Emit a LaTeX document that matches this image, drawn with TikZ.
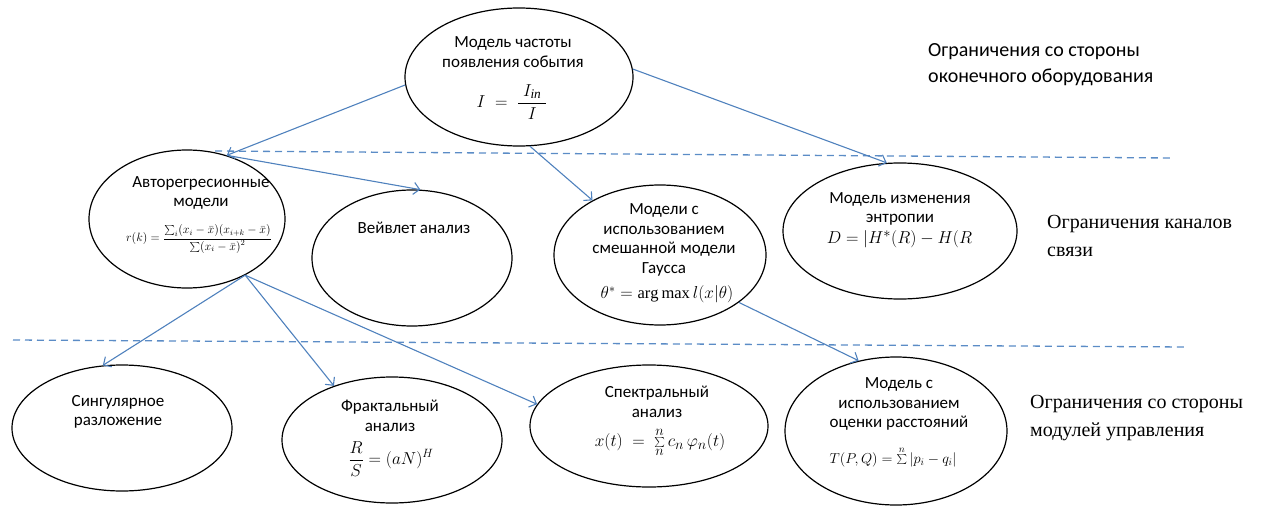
\documentclass[tikz,border=0pt]{standalone}
\usepackage{fontspec}
\setmainfont{Liberation Serif}
\newfontfamily\calib{Carlito}
\newfontfamily\tnr{Liberation Serif}
\usetikzlibrary{shapes.geometric,arrows.meta}
\definecolor{arr}{HTML}{4F81BD}
\definecolor{dsh}{HTML}{5B8CC6}
\begin{document}
\begin{tikzpicture}[x=1pt,y=-1pt,
  ell/.style={draw=black, line width=1.2pt, ellipse, inner sep=0pt},
  lbl/.style={font=\calib\fontsize{17}{19.5}\selectfont, align=center, inner sep=0pt},
  frm/.style={inner sep=0pt},
  conn/.style={draw=arr, line width=1.1pt, -{Straight Barb[length=6pt,width=12pt]}},
  sepline/.style={draw=dsh, line width=1.3pt, dash pattern=on 7pt off 5pt},
  sidesans/.style={font=\calib\fontsize{20}{26}\selectfont, align=left, inner sep=0pt, anchor=west},
  sideserif/.style={font=\tnr\fontsize{20}{28}\selectfont, align=left, inner sep=0pt, anchor=west}]
\useasboundingbox (0,0) rectangle (1269,506);

% dashed separators
\draw[sepline] (215,151) -- (1172,158);
\draw[sepline] (13,340) -- (1187,347);

% ellipses
\node[ell, minimum width=228pt, minimum height=138pt] (T) at (519,77) {};
\node[ell, minimum width=196pt, minimum height=138pt] (AR) at (187,219) {};
\node[ell, minimum width=200pt, minimum height=136pt] (W) at (412,258) {};
\node[ell, minimum width=212pt, minimum height=140pt] (G) at (660,255) {};
\node[ell, minimum width=234pt, minimum height=136pt] (E) at (900,231) {};
\node[ell, minimum width=220pt, minimum height=126pt] (S) at (122,428) {};
\node[ell, minimum width=220pt, minimum height=126pt] (F) at (392,440) {};
\node[ell, minimum width=238pt, minimum height=122pt] (Sp) at (649,426) {};
\node[ell, minimum width=222pt, minimum height=148pt] (D) at (896,431) {};

% texts
\node[lbl] (Tt) at (513,52) {Модель частоты\\появления события};
\node[frm] (Tf) at (512,102) {\fontsize{19}{22}\selectfont$I \;=\; \displaystyle\frac{\;I_{\mathit{in}}\;}{I}$};

\node[lbl] (ARt) at (201,193) {Авторегресионные\\модели};
\node[frm] (ARf) at (199,239) {\fontsize{11.5}{13}\selectfont$r(k)=\displaystyle\frac{\textstyle\sum_{i}(x_i-\bar{x})(x_{i+k}-\bar{x})}{\textstyle\sum(x_i-\bar{x})^2}$};

\node[lbl] (Wt) at (414,228) {Вейвлет анализ};

\node[lbl] (Gt) at (664,240) {Модели с\\использованием\\смешанной модели\\Гаусса};
\node[frm] (Gf) at (667,294) {\fontsize{16.5}{19}\selectfont$\theta^{*}=\arg\max l(x|\theta)$};

\node[lbl] (Et) at (900,209) {Модель изменения\\энтропии};
\node[frm] (Ef) at (900,239) {\fontsize{19}{22}\selectfont$D=\left|H^{*}(R)-H(R\right.$};

\node[lbl] (St) at (118,412) {Сингулярное\\разложение};

\node[lbl] (Ft) at (390,416) {Фрактальный\\анализ};
\node[frm] (Ff) at (391,459) {\fontsize{18}{21}\selectfont$\displaystyle\frac{R}{S}=(aN)^{H}$};

\node[lbl] (Spt) at (657,402) {Спектральный\\анализ};
\node[frm] (Spf) at (660,442) {\fontsize{19}{22}\selectfont$x(t)\;=\;\sum\limits_{n}^{n}c_n\,\varphi_n(t)$};

\node[lbl] (Dt) at (899,404) {Модель с\\использованием\\оценки расстояний};
\node[frm] (Df) at (893,457) {\fontsize{14}{17}\selectfont$T(P,Q)=\sum\limits^{n}\left|p_i-q_i\right|$};

% side labels
\node[sidesans] (L1) at (928,65) {Ограничения со стороны\\оконечного оборудования};
\node[sideserif] (L2) at (1047,236) {Ограничения каналов\\связи};
\node[sideserif] (L3) at (1030,418) {Ограничения со стороны\\модулей управления};

% connectors
\draw[conn] (T.184) -- (AR.58);
\draw[conn] (AR.58) -- (W.83);
\draw[conn] (T.-81) -- (G.141);
\draw[conn] (T.4) -- (E.101);
\draw[conn] (AR.-44) -- (S.107);
\draw[conn] (AR.-44) -- (F.137);
\draw[conn] (AR.-44) -- (Sp.169);
\draw[conn] (G.-31) -- (D.118);
\end{tikzpicture}
\end{document}
